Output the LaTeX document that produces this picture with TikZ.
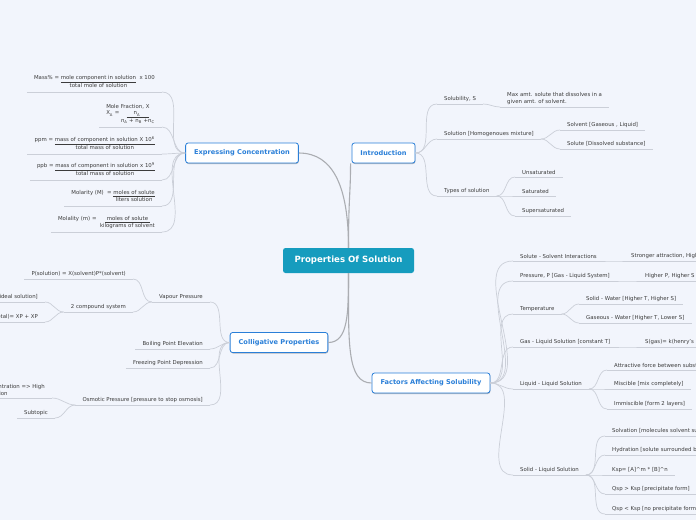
\documentclass[tikz,border=0pt]{standalone}
\usepackage{fontspec}
\setmainfont{DejaVu Sans}
\usepackage{tikz}
\usetikzlibrary{shadows}

\definecolor{bgcol}{HTML}{F2F5FC}
\definecolor{rootcol}{HTML}{169CBE}
\definecolor{mainblue}{HTML}{2A7FD8}
\definecolor{txtcol}{HTML}{3C3C3C}
\definecolor{linecol}{HTML}{CBCFD8}
\definecolor{trunkcol}{HTML}{ABADB2}

% underlined numerator over a denominator
\newcommand{\frc}[2]{\begin{tabular}[t]{@{}c@{}}\underline{#1}\\#2\end{tabular}}

\begin{document}
\begin{tikzpicture}[x=1pt, y=-1pt,
  root/.style={fill=rootcol, text=white, rounded corners=2.5pt,
               font=\bfseries\fontsize{8.6}{10}\selectfont,
               minimum width=131pt, minimum height=25pt},
  main/.style={draw=mainblue, line width=0.8pt, fill=white, text=mainblue,
               rounded corners=2.5pt, font=\bfseries\fontsize{6.6}{8}\selectfont,
               minimum height=20pt, inner xsep=8.5pt,
               drop shadow={shadow xshift=0.4pt, shadow yshift=-1pt, fill=black, opacity=0.25}},
  sub/.style={text=txtcol, font=\fontsize{5.4}{6.6}\selectfont, inner xsep=7pt,
              inner ysep=2.2pt, align=left,
              append after command={(\tikzlastnode.south west) edge[uline] (\tikzlastnode.south east)}},
  lsub/.style={sub, anchor=south east},
  rsub/.style={sub, anchor=south west},
  uline/.style={draw=linecol, line width=0.7pt},
  conn/.style={draw=linecol, line width=0.7pt},
  trunk/.style={draw=trunkcol, line width=1.1pt},
]
\useasboundingbox (0,0) rectangle (696,520);
\clip (0,0) rectangle (696,520);
\fill[bgcol] (0,0) rectangle (696,520);

% Root
\node[root] (root) at (348.5,260.5) {Properties Of Solution};

% Main branches
\node[main] (conc) at (242,153) {Expressing Concentration};
\node[main] (intro) at (383.5,153) {Introduction};
\node[main] (coll) at (279,342.5) {Colligative Properties};
\node[main] (fact) at (431,383) {Factors Affecting Solubility};

\draw[trunk] (root.north) .. controls +(0,-60) and +(35,0) .. (conc.east);
\draw[trunk] (root.north) .. controls +(0,-50) and +(0,30) .. ([xshift=-1pt]intro.south west);
\draw[trunk] (root.south) .. controls +(0,40) and +(20,0) .. (coll.east);
\draw[trunk] (root.south) .. controls +(0,70) and +(-25,0) .. (fact.west);

% Introduction
\node[rsub] (solub) at (437,104) {Solubility, S};
\node[rsub] (maxamt) at (500,107) {Max amt. solute that dissolves in a\\given amt. of solvent.};
\node[rsub] (soln) at (437,139) {Solution [Homogenoues mixture]};
\node[rsub] (solvent) at (560,130) {Solvent [Gaseous , Liquid]};
\node[rsub] (solute) at (560,149) {Solute [Dissolved substance]};
\node[rsub] (types) at (437,196) {Types of solution};
\node[rsub] (unsat) at (515,177) {Unsaturated};
\node[rsub] (sat) at (515,196) {Saturated};
\node[rsub] (supsat) at (515,216) {Supersaturated};

\draw[conn] (intro.east) to[out=0,in=180] (solub.south west);
\draw[conn] (intro.east) to[out=0,in=180] (soln.south west);
\draw[conn] (intro.east) to[out=0,in=180] (types.south west);
\draw[conn] (solub.south east) to[out=0,in=180] (maxamt.south west);
\draw[conn] (soln.south east) to[out=0,in=180] (solvent.south west);
\draw[conn] (soln.south east) to[out=0,in=180] (solute.south west);
\draw[conn] (types.south east) to[out=0,in=180] (unsat.south west);
\draw[conn] (types.south east) to[out=0,in=180] (sat.south west);
\draw[conn] (types.south east) to[out=0,in=180] (supsat.south west);

% Expressing concentration
\node[lsub] (mass) at (162,92) {Mass\% = \frc{mole component in solution}{total mole of solution}\ \ x 100};
\node[lsub] (molef) at (162,127) {Mole Fraction, X\\X\textsubscript{A} = \frc{\hspace{7pt}n\textsubscript{A}\hspace{9pt}}{n\textsubscript{A} + n\textsubscript{B} +n\textsubscript{C}}};
\node[lsub] (ppm) at (162,154) {ppm = \frc{mass of component in solution X 10\textsuperscript{6}}{total mass of solution}};
\node[lsub] (ppb) at (162,180) {ppb = \frc{mass of component in solution x 10\textsuperscript{9}}{total mass of solution}};
\node[lsub] (molar) at (162,206) {Molarity (M) \ = \frc{moles of solute}{liters solution}};
\node[lsub] (molal) at (162,232) {Molality (m) = \ \frc{\ moles of solute\ }{kilograms of solvent}};

\draw[conn] (conc.west) to[out=180,in=0] (mass.south east);
\draw[conn] (conc.west) to[out=180,in=0] (molef.south east);
\draw[conn] (conc.west) to[out=180,in=0] (ppm.south east);
\draw[conn] (conc.west) to[out=180,in=0] (ppb.south east);
\draw[conn] (conc.west) to[out=180,in=0] (molar.south east);
\draw[conn] (conc.west) to[out=180,in=0] (molal.south east);

% Colligative properties
\node[lsub] (vap) at (210,302) {Vapour Pressure};
\node[lsub] (psol) at (133,279) {P(solution) = X(solvent)P*(solvent)};
\node[lsub] (twocomp) at (133,312) {2 compound system};
\node[lsub] (ideal) at (45,302) {[ideal solution]};
\node[lsub] (ptot) at (45,322) {P(total)= XP + XP};
\node[lsub] (boil) at (210,349) {Boiling Point Elevation};
\node[lsub] (freeze) at (210,368) {Freezing Point Depression};
\node[lsub] (osmo) at (210,405) {Osmotic Pressure [pressure to stop osmosis]};
\node[lsub] (lowhigh) at (52,398) {Low concentration => High\\concentration};
\node[lsub] (subtop) at (55,418) {Subtopic};

\draw[conn] (coll.west) to[out=180,in=0] (vap.south east);
\draw[conn] (coll.west) to[out=180,in=0] (boil.south east);
\draw[conn] (coll.west) to[out=180,in=0] (freeze.south east);
\draw[conn] (coll.west) to[out=180,in=0] (osmo.south east);
\draw[conn] (vap.south west) to[out=180,in=0] (psol.south east);
\draw[conn] (vap.south west) to[out=180,in=0] (twocomp.south east);
\draw[conn] (twocomp.south west) to[out=180,in=0] (ideal.south east);
\draw[conn] (twocomp.south west) to[out=180,in=0] (ptot.south east);
\draw[conn] (osmo.south west) to[out=180,in=0] (lowhigh.south east);
\draw[conn] (osmo.south west) to[out=180,in=0] (subtop.south east);

% Factors affecting solubility
\node[rsub] (ssi) at (513,261) {Solute - Solvent Interactions};
\node[rsub] (strong) at (624,261) {Stronger attraction, Higher S};
\node[rsub] (press) at (513,281) {Pressure, P [Gas - Liquid System]};
\node[rsub] (highp) at (638,281) {Higher P, Higher S};
\node[rsub] (temp) at (513,314) {Temperature};
\node[rsub] (solidw) at (579,304) {Solid - Water [Higher T, Higher S]};
\node[rsub] (gasw) at (579,323) {Gaseous - Water [Higher T, Lower S]};
\node[rsub] (gasliq) at (513,347) {Gas - Liquid Solution [constant T]};
\node[rsub] (henry) at (638,347) {S(gas)= k(henry's law)P(gas)};
\node[rsub] (liqliq) at (513,389) {Liquid - Liquid Solution};
\node[rsub] (attr) at (607,370) {Attractive force between substances};
\node[rsub] (misc) at (607,389) {Miscible [mix completely]};
\node[rsub] (immisc) at (607,409) {Immiscible [form 2 layers]};
\node[rsub] (solliq) at (513,475) {Solid - Liquid Solution};
\node[rsub] (solv) at (605,436) {Solvation [molecules solvent surround solute]};
\node[rsub] (hydr) at (605,455) {Hydration [solute surrounded by water]};
\node[rsub] (ksp) at (605,475) {Ksp= [A]\textasciicircum m * [B]\textasciicircum n};
\node[rsub] (qgt) at (605,494) {Qsp > Ksp [precipitate form]};
\node[rsub] (qlt) at (605,514) {Qsp < Ksp [no precipitate form]};

\draw[conn] (fact.east) to[out=0,in=180] (ssi.south west);
\draw[conn] (fact.east) to[out=0,in=180] (press.south west);
\draw[conn] (fact.east) to[out=0,in=180] (temp.south west);
\draw[conn] (fact.east) to[out=0,in=180] (gasliq.south west);
\draw[conn] (fact.east) to[out=0,in=180] (liqliq.south west);
\draw[conn] (fact.east) to[out=0,in=180] (solliq.south west);
\draw[conn] (ssi.south east) to[out=0,in=180] (strong.south west);
\draw[conn] (press.south east) to[out=0,in=180] (highp.south west);
\draw[conn] (temp.south east) to[out=0,in=180] (solidw.south west);
\draw[conn] (temp.south east) to[out=0,in=180] (gasw.south west);
\draw[conn] (gasliq.south east) to[out=0,in=180] (henry.south west);
\draw[conn] (liqliq.south east) to[out=0,in=180] (attr.south west);
\draw[conn] (liqliq.south east) to[out=0,in=180] (misc.south west);
\draw[conn] (liqliq.south east) to[out=0,in=180] (immisc.south west);
\draw[conn] (solliq.south east) to[out=0,in=180] (solv.south west);
\draw[conn] (solliq.south east) to[out=0,in=180] (hydr.south west);
\draw[conn] (solliq.south east) to[out=0,in=180] (ksp.south west);
\draw[conn] (solliq.south east) to[out=0,in=180] (qgt.south west);
\draw[conn] (solliq.south east) to[out=0,in=180] (qlt.south west);
\end{tikzpicture}
\end{document}
